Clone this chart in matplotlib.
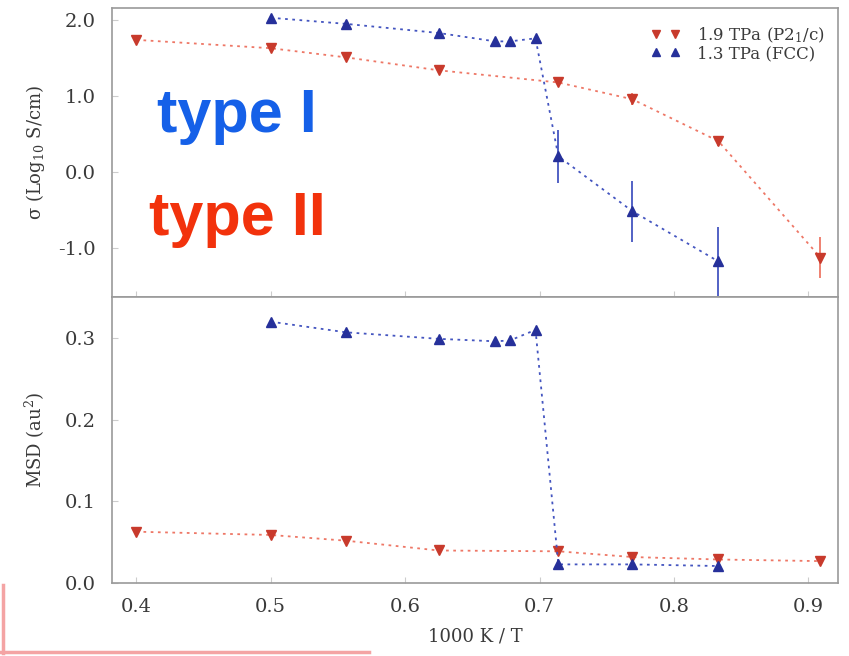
import matplotlib
matplotlib.use("Agg")
import matplotlib.pyplot as plt
from matplotlib.lines import Line2D

# inverse temperature (1000 K / T)
x_p21c = [0.400, 0.500, 0.556, 0.625, 0.714, 0.769, 0.833, 0.909]
x_fcc = [0.500, 0.556, 0.625, 0.667, 0.678, 0.697, 0.714, 0.769, 0.833]

# conductivity, log10 S/cm
sigma_p21c = [1.74, 1.63, 1.51, 1.34, 1.18, 0.96, 0.41, -1.12]
sigma_p21c_err = [0.03, 0.03, 0.04, 0.04, 0.05, 0.08, 0.06, 0.27]
sigma_fcc = [2.03, 1.95, 1.83, 1.72, 1.72, 1.76, 0.21, -0.51, -1.17]
sigma_fcc_err = [0.03, 0.03, 0.03, 0.03, 0.03, 0.05, 0.35, 0.40, 0.45]

# mean squared displacement, au^2
msd_p21c = [0.063, 0.059, 0.052, 0.040, 0.039, 0.032, 0.029, 0.027]
msd_fcc = [0.320, 0.307, 0.299, 0.296, 0.297, 0.310, 0.023, 0.023, 0.021]

labels = ["1.9 TPa (P2$_1$/c)", "1.3 TPa (FCC)"]
xticks = [0.4, 0.5, 0.6, 0.7, 0.8, 0.9]

RED = "#c83a2c"
RED_LINE = "#ee7766"
BLUE = "#26309a"
BLUE_LINE = "#4455c0"
SPINE = "#9a9a9a"
TEXT = "#3a3a3a"

plt.rcParams["font.family"] = ["DejaVu Serif"]
plt.rcParams["mathtext.fontset"] = "dejavuserif"

fig = plt.figure(figsize=(8.49, 6.56), dpi=100)
ax1 = fig.add_axes([0.132, 0.547, 0.855, 0.441])
ax2 = fig.add_axes([0.132, 0.111, 0.855, 0.436], sharex=ax1)

dots = (0, (1.5, 2.5))
line_kw = dict(linestyle=dots, linewidth=1.3, markersize=6.5,
               elinewidth=1.3, capsize=0)

ax1.errorbar(x_p21c, sigma_p21c, yerr=sigma_p21c_err, marker="v",
             color=RED_LINE, mfc=RED, mec=RED, ecolor=RED_LINE, **line_kw)
ax1.errorbar(x_fcc, sigma_fcc, yerr=sigma_fcc_err, marker="^",
             color=BLUE_LINE, mfc=BLUE, mec=BLUE, ecolor=BLUE_LINE, **line_kw)

ax2.plot(x_p21c, msd_p21c, marker="v", color=RED_LINE, mfc=RED, mec=RED,
         linestyle=dots, linewidth=1.3, markersize=6.5)
ax2.plot(x_fcc, msd_fcc, marker="^", color=BLUE_LINE, mfc=BLUE, mec=BLUE,
         linestyle=dots, linewidth=1.3, markersize=6.5)

ax1.set_xlim(0.382, 0.922)
ax1.set_ylim(-1.64, 2.16)
ax1.set_yticks([2.0, 1.0, 0.0, -1.0])
ax1.set_yticklabels(["2.0", "1.0", "0.0", "-1.0"])
ax2.set_ylim(0.0, 0.35)
ax2.set_yticks([0.0, 0.1, 0.2, 0.3])
ax2.set_xticks(xticks)
ax2.set_xticklabels([f"{t:.1f}" for t in xticks])
plt.setp(ax1.get_xticklabels(), visible=False)

for ax in (ax1, ax2):
    for s in ax.spines.values():
        s.set_color(SPINE)
        s.set_linewidth(1.2)
    ax.tick_params(direction="in", color="#cccccc", labelcolor=TEXT,
                   labelsize=14, length=4)
ax2.tick_params(axis="x", pad=11)
ax1.tick_params(axis="y", pad=12)
ax2.tick_params(axis="y", pad=12)

ax1.set_ylabel("σ (Log$_{10}$ S/cm)", fontsize=13, color=TEXT)
ax2.set_ylabel("MSD (au$^2$)", fontsize=13, color=TEXT)
ax2.set_xlabel("1000 K / T", fontsize=13, color=TEXT, labelpad=8)
ax1.yaxis.set_label_coords(-0.09, 0.5)
ax2.yaxis.set_label_coords(-0.09, 0.5)

handles = [
    Line2D([], [], marker="v", color=RED, linestyle="none", markersize=6),
    Line2D([], [], marker="^", color=BLUE, linestyle="none", markersize=6),
]
ax1.legend(handles, labels, loc="upper right", numpoints=2, frameon=False,
           fontsize=12, handlelength=1.75, handletextpad=1.0,
           labelspacing=0.02, borderaxespad=0.5, borderpad=0.3,
           labelcolor=TEXT, bbox_to_anchor=(1.0, 0.985))

ax1.text(0.062, 0.571, "type I", transform=ax1.transAxes, color="#1560e8",
         fontsize=44, fontweight="bold", family="Liberation Sans",
         va="baseline")
ax1.text(0.051, 0.215, "type II", transform=ax1.transAxes, color="#f2320c",
         fontsize=44, fontweight="bold", family="Liberation Sans",
         va="baseline")

# pink frame edge in the lower left corner
fig.add_artist(Line2D([0.003, 0.003], [0.005, 0.108], transform=fig.transFigure,
                      color="#f4a4a4", linewidth=2.5))
fig.add_artist(Line2D([0.0, 0.435], [0.006, 0.006], transform=fig.transFigure,
                      color="#f4a4a4", linewidth=2.5))

fig.savefig("out.png", dpi=100)
